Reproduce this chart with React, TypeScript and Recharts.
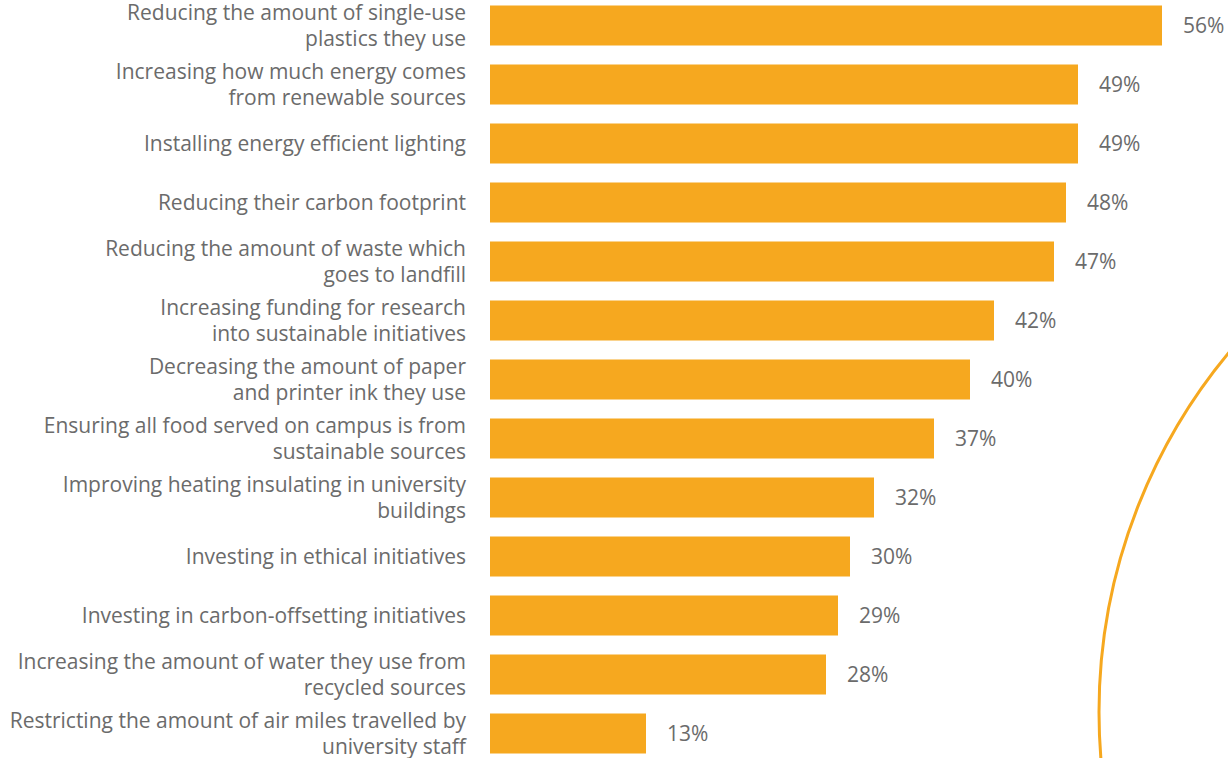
import { Bar, BarChart, LabelList, XAxis, YAxis } from "recharts";

const categories = [
  "Reducing the amount of single-use\nplastics they use",
  "Increasing how much energy comes\nfrom renewable sources",
  "Installing energy efficient lighting",
  "Reducing their carbon footprint",
  "Reducing the amount of waste which\ngoes to landfill",
  "Increasing funding for research\ninto sustainable initiatives",
  "Decreasing the amount of paper\nand printer ink they use",
  "Ensuring all food served on campus is from\nsustainable sources",
  "Improving heating insulating in university\nbuildings",
  "Investing in ethical initiatives",
  "Investing in carbon-offsetting initiatives",
  "Increasing the amount of water they use from\nrecycled sources",
  "Restricting the amount of air miles travelled by\nuniversity staff",
];

const shares = [56, 49, 49, 48, 47, 42, 40, 37, 32, 30, 29, 28, 13];

const BAR = "#F6A81F";
const TEXT = "#6b6b6b";
const FONT = "'Open Sans', sans-serif";

const rows = categories.map((name, i) => ({ name, value: shares[i] }));

function CategoryTick({ x, y, payload }: any) {
  const lines = String(payload.value).split("\n");
  const lineHeight = 26;
  const startY = y - ((lines.length - 1) * lineHeight) / 2;
  return (
    <text x={x - 16} y={startY} textAnchor="end" fill={TEXT} fontFamily={FONT} fontSize={21}>
      {lines.map((line, i) => (
        <tspan key={i} x={x - 16} dy={i === 0 ? "0.36em" : lineHeight}>
          {line}
        </tspan>
      ))}
    </text>
  );
}

export default function App() {
  return (
    <div style={{ position: "absolute", left: 0, top: 0, width: 1228, height: 758, background: "#fff" }}>
      <BarChart
        width={1228}
        height={758}
        data={rows}
        layout="vertical"
        margin={{ top: -4.5, right: 18, bottom: -4.5, left: 0 }}
        barSize={40}
      >
        <XAxis type="number" domain={[0, 60]} hide />
        <YAxis
          type="category"
          dataKey="name"
          width={490}
          axisLine={false}
          tickLine={false}
          tick={<CategoryTick />}
          interval={0}
        />
        <Bar dataKey="value" fill={BAR} isAnimationActive={false}>
          <LabelList
            dataKey="value"
            position="right"
            offset={21}
            formatter={(v: any) => `${v}%`}
            fill={TEXT}
            fontFamily={FONT}
            fontSize={21}
          />
        </Bar>
      </BarChart>
      <svg width={1228} height={758} style={{ position: "absolute", left: 0, top: 0, pointerEvents: "none" }}>
        <circle cx={1661} cy={712} r={562} fill="none" stroke={BAR} strokeWidth={3} />
      </svg>
    </div>
  );
}
